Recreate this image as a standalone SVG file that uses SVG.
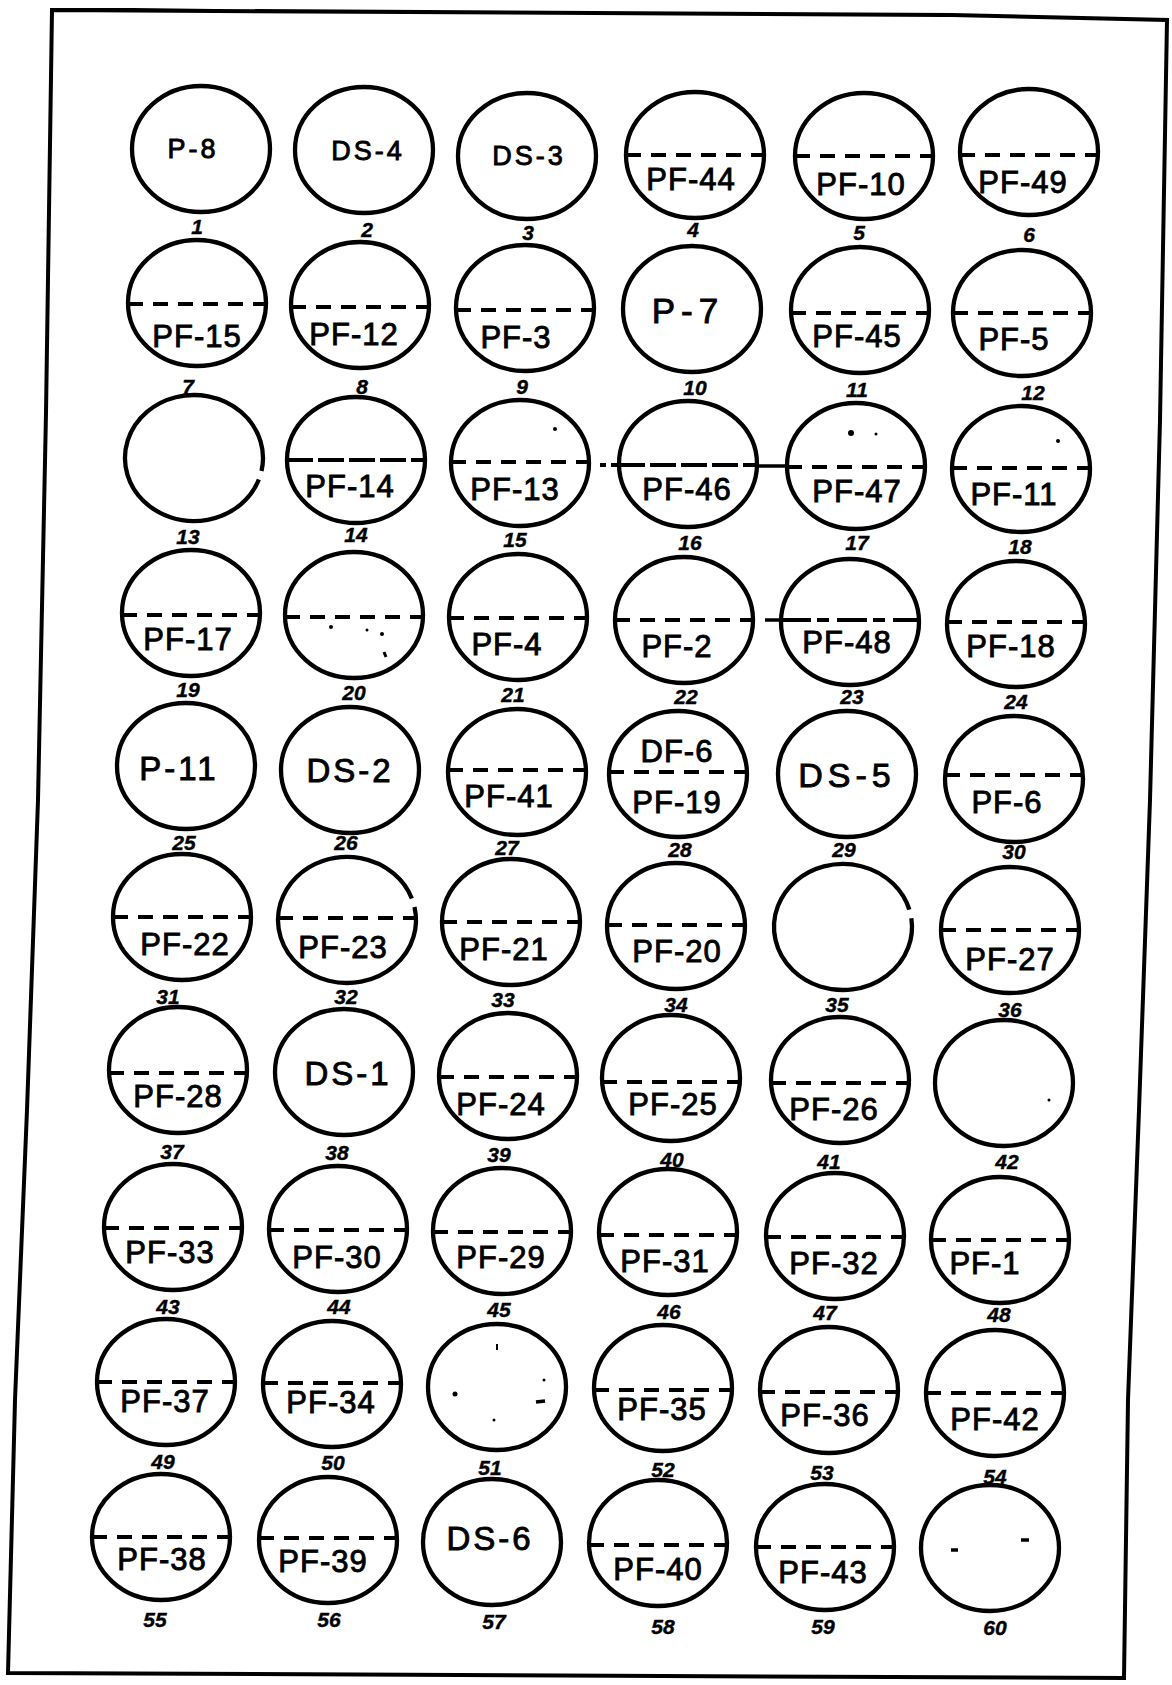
<svg xmlns="http://www.w3.org/2000/svg" width="1172" height="1685" viewBox="0 0 1172 1685">
<style>
.c{fill:none;stroke:#000;stroke-width:4.3}
.d{stroke:#000;stroke-width:4;stroke-dasharray:15 10;fill:none}
.ld{stroke:#000;stroke-width:4;stroke-dasharray:26 5;fill:none}
.s{stroke:#000;stroke-width:3.5;fill:none}
text{font-family:"Liberation Sans",Arial,sans-serif;fill:#000;text-anchor:middle;stroke:#000;stroke-width:0.9}
.t{font-size:31px;letter-spacing:1px}
.sm{font-size:27px;letter-spacing:3px}
.b{font-size:33px;letter-spacing:3px}
.n{font-size:21px;font-style:italic;font-weight:bold;stroke-width:0.4}
.m{fill:#000}
</style>
<rect width="1172" height="1685" fill="#fff"/>
<g id="frame" fill="none" stroke="#000" stroke-width="4">
<path d="M52,10 L944,15 M952,15 L1167,20 L1160,420 L1150,800 L1139,1110 L1128,1400 L1124,1678 L8,1673 L15,1400 L27,1110 L38,800 L46,413 L52,10 Z"/>
</g>
<g id="connectors">
<line class="d" x1="600" y1="465" x2="620" y2="465" style="stroke-dasharray:6 5"/>
<line class="s" x1="757" y1="466" x2="788" y2="466"/>
<line class="s" x1="765" y1="620" x2="782" y2="620"/>
</g>
<!-- Row 1 -->
<g id="n1"><ellipse class="c" cx="201" cy="149" rx="69" ry="63"/><text class="sm" x="193" y="158">P-8</text><text class="n" x="197" y="234">1</text></g>
<g id="n2"><ellipse class="c" cx="364" cy="150" rx="69" ry="63"/><text class="sm" x="368" y="160">DS-4</text><text class="n" x="367" y="237">2</text></g>
<g id="n3"><ellipse class="c" cx="527" cy="156" rx="69" ry="63"/><text class="sm" x="529" y="165">DS-3</text><text class="n" x="528" y="240">3</text></g>
<g id="n4"><ellipse class="c" cx="695" cy="155" rx="69" ry="63"/><line class="d" x1="626" y1="155" x2="764" y2="155"/><text class="t" x="691" y="190">PF-44</text><text class="n" x="693" y="237">4</text></g>
<g id="n5"><ellipse class="c" cx="864" cy="156" rx="69" ry="63"/><line class="d" x1="795" y1="156" x2="933" y2="156"/><text class="t" x="861" y="195">PF-10</text><text class="n" x="859" y="240">5</text></g>
<g id="n6"><ellipse class="c" cx="1029" cy="152" rx="69" ry="63"/><line class="d" x1="960" y1="155" x2="1098" y2="155"/><text class="t" x="1023" y="193">PF-49</text><text class="n" x="1029" y="242">6</text></g>
<!-- Row 2 -->
<g id="n7"><ellipse class="c" cx="197" cy="303" rx="69" ry="63"/><line class="d" x1="128" y1="304" x2="266" y2="304"/><text class="t" x="197" y="347">PF-15</text><text class="n" x="188" y="394">7</text></g>
<g id="n8"><ellipse class="c" cx="360" cy="305" rx="69" ry="63"/><line class="d" x1="291" y1="307" x2="429" y2="307"/><text class="t" x="354" y="345">PF-12</text><text class="n" x="362" y="394">8</text></g>
<g id="n9"><ellipse class="c" cx="525" cy="308" rx="69" ry="63"/><line class="d" x1="456" y1="310" x2="594" y2="310"/><text class="t" x="516" y="348">PF-3</text><text class="n" x="522" y="394">9</text></g>
<g id="n10"><ellipse class="c" cx="692" cy="309" rx="69" ry="63"/><text class="b" x="688" y="323" style="font-size:35px;letter-spacing:6px">P-7</text><text class="n" x="695" y="395">10</text></g>
<g id="n11"><ellipse class="c" cx="860" cy="310" rx="69" ry="63"/><line class="d" x1="791" y1="313" x2="929" y2="313"/><text class="t" x="857" y="347">PF-45</text><text class="n" x="857" y="397">11</text></g>
<g id="n12"><ellipse class="c" cx="1022" cy="313" rx="69" ry="63"/><line class="d" x1="953" y1="313" x2="1091" y2="313"/><text class="t" x="1014" y="350">PF-5</text><text class="n" x="1033" y="400">12</text></g>
<!-- Row 3 -->
<g id="n13"><path class="c" d="M258.84,479.55 A69,63 0 1 1 261.49,471.10"/><text class="n" x="188" y="544">13</text></g>
<g id="n14"><ellipse class="c" cx="356" cy="460" rx="69" ry="63"/><line class="ld" x1="287" y1="460" x2="425" y2="460"/><text class="t" x="350" y="497">PF-14</text><text class="n" x="356" y="542">14</text></g>
<g id="n15"><ellipse class="c" cx="520" cy="463" rx="69" ry="63"/><line class="d" x1="451" y1="462" x2="589" y2="462"/><text class="t" x="515" y="500">PF-13</text><circle class="m" cx="555" cy="429" r="2"/><text class="n" x="515" y="547">15</text></g>
<g id="n16"><ellipse class="c" cx="688" cy="464" rx="69" ry="63"/><line class="ld" x1="619" y1="465" x2="757" y2="465"/><text class="t" x="687" y="500">PF-46</text><text class="n" x="690" y="550">16</text></g>
<g id="n17"><ellipse class="c" cx="856" cy="466" rx="69" ry="63"/><line class="d" x1="787" y1="467" x2="925" y2="467"/><text class="t" x="857" y="502">PF-47</text><circle class="m" cx="851" cy="433" r="3"/><circle class="m" cx="876" cy="434" r="1.5"/><text class="n" x="857" y="550">17</text></g>
<g id="n18"><ellipse class="c" cx="1021" cy="469" rx="69" ry="63"/><line class="d" x1="952" y1="468" x2="1090" y2="468"/><text class="t" x="1014" y="505">PF-11</text><circle class="m" cx="1058" cy="441" r="2"/><text class="n" x="1020" y="554">18</text></g>
<!-- Row 4 -->
<g id="n19"><ellipse class="c" cx="191" cy="613" rx="69" ry="63"/><line class="d" x1="122" y1="615" x2="260" y2="615"/><text class="t" x="188" y="650">PF-17</text><text class="n" x="188" y="697">19</text></g>
<g id="n20"><ellipse class="c" cx="354" cy="615" rx="69" ry="63"/><line class="d" x1="285" y1="617" x2="423" y2="617"/><circle class="m" cx="331" cy="627" r="2"/><circle class="m" cx="367" cy="630" r="1.5"/><circle class="m" cx="382" cy="634" r="2"/><path class="s" d="M384,652 L386,657" style="stroke-width:3"/><text class="n" x="354" y="700">20</text></g>
<g id="n21"><ellipse class="c" cx="518" cy="617" rx="69" ry="63"/><line class="d" x1="449" y1="618" x2="587" y2="618"/><text class="t" x="507" y="655">PF-4</text><text class="n" x="513" y="702">21</text></g>
<g id="n22"><ellipse class="c" cx="684" cy="620" rx="69" ry="63"/><line class="d" x1="615" y1="620" x2="753" y2="620"/><text class="t" x="677" y="657">PF-2</text><text class="n" x="686" y="704">22</text></g>
<g id="n23"><ellipse class="c" cx="850" cy="622" rx="69" ry="63"/><line class="d" x1="781" y1="620" x2="919" y2="620" style="stroke-dasharray:30 6 12 8"/><text class="t" x="847" y="653">PF-48</text><text class="n" x="852" y="704">23</text></g>
<g id="n24"><ellipse class="c" cx="1016" cy="624" rx="69" ry="63"/><line class="d" x1="947" y1="622" x2="1085" y2="622"/><text class="t" x="1011" y="657">PF-18</text><text class="n" x="1016" y="709">24</text></g>
<!-- Row 5 -->
<g id="n25"><ellipse class="c" cx="186" cy="766" rx="69" ry="63"/><text class="b" x="179" y="780">P-11</text><text class="n" x="184" y="850">25</text></g>
<g id="n26"><ellipse class="c" cx="350" cy="770" rx="69" ry="63"/><text class="b" x="350" y="782">DS-2</text><text class="n" x="346" y="850">26</text></g>
<g id="n27"><ellipse class="c" cx="517" cy="772" rx="69" ry="63"/><line class="d" x1="448" y1="770" x2="586" y2="770"/><text class="t" x="509" y="807">PF-41</text><text class="n" x="507" y="855">27</text></g>
<g id="n28"><ellipse class="c" cx="678" cy="774" rx="69" ry="63"/><line class="d" x1="609" y1="772" x2="747" y2="772"/><text class="t" x="677" y="762">DF-6</text><text class="t" x="677" y="813">PF-19</text><text class="n" x="680" y="857">28</text></g>
<g id="n29"><ellipse class="c" cx="847" cy="774" rx="69" ry="63"/><text class="b" x="847" y="787" style="font-size:34px;letter-spacing:5px">DS-5</text><text class="n" x="844" y="857">29</text></g>
<g id="n30"><ellipse class="c" cx="1014" cy="779" rx="69" ry="63"/><line class="d" x1="945" y1="775" x2="1083" y2="775"/><text class="t" x="1007" y="813">PF-6</text><text class="n" x="1014" y="859">30</text></g>
<!-- Row 6 -->
<g id="n31"><ellipse class="c" cx="182" cy="917" rx="69" ry="63"/><line class="d" x1="113" y1="917" x2="251" y2="917"/><text class="t" x="185" y="955">PF-22</text><text class="n" x="168" y="1004">31</text></g>
<g id="n32"><path class="c" d="M414.49,906.90 A69,63 0 1 1 411.84,898.45"/><line class="d" x1="278" y1="918" x2="416" y2="918"/><text class="t" x="343" y="958">PF-23</text><text class="n" x="346" y="1004">32</text></g>
<g id="n33"><ellipse class="c" cx="511" cy="922" rx="69" ry="63"/><line class="d" x1="442" y1="922" x2="580" y2="922"/><text class="t" x="504" y="960">PF-21</text><text class="n" x="503" y="1007">33</text></g>
<g id="n34"><ellipse class="c" cx="676" cy="926" rx="69" ry="63"/><line class="d" x1="607" y1="925" x2="745" y2="925"/><text class="t" x="677" y="962">PF-20</text><text class="n" x="676" y="1012">34</text></g>
<g id="n35"><path class="c" d="M911.33,918.23 A69,63 0 1 1 909.33,909.63"/><text class="n" x="837" y="1012">35</text></g>
<g id="n36"><ellipse class="c" cx="1010" cy="930" rx="69" ry="63"/><line class="d" x1="941" y1="930" x2="1079" y2="930"/><text class="t" x="1010" y="970">PF-27</text><text class="n" x="1010" y="1017">36</text></g>
<!-- Row 7 -->
<g id="n37"><ellipse class="c" cx="178" cy="1070" rx="69" ry="63"/><line class="d" x1="109" y1="1073" x2="247" y2="1073"/><text class="t" x="178" y="1107">PF-28</text><text class="n" x="172" y="1159">37</text></g>
<g id="n38"><ellipse class="c" cx="344" cy="1072" rx="69" ry="63"/><text class="b" x="348" y="1085">DS-1</text><text class="n" x="337" y="1160">38</text></g>
<g id="n39"><ellipse class="c" cx="508" cy="1076" rx="69" ry="63"/><line class="d" x1="439" y1="1077" x2="577" y2="1077"/><text class="t" x="501" y="1115">PF-24</text><text class="n" x="499" y="1162">39</text></g>
<g id="n40"><ellipse class="c" cx="671" cy="1078" rx="69" ry="63"/><line class="d" x1="602" y1="1082" x2="740" y2="1082"/><text class="t" x="673" y="1115">PF-25</text><text class="n" x="672" y="1167">40</text></g>
<g id="n41"><ellipse class="c" cx="840" cy="1080" rx="69" ry="63"/><line class="d" x1="771" y1="1083" x2="909" y2="1083"/><text class="t" x="834" y="1120">PF-26</text><text class="n" x="829" y="1169">41</text></g>
<g id="n42"><ellipse class="c" cx="1004" cy="1083" rx="69" ry="63"/><circle class="m" cx="1049" cy="1100" r="1.5"/><text class="n" x="1007" y="1169">42</text></g>
<!-- Row 8 -->
<g id="n43"><ellipse class="c" cx="173" cy="1227" rx="69" ry="63"/><line class="d" x1="104" y1="1228" x2="242" y2="1228"/><text class="t" x="170" y="1263">PF-33</text><text class="n" x="168" y="1314">43</text></g>
<g id="n44"><ellipse class="c" cx="338" cy="1229" rx="69" ry="63"/><line class="d" x1="269" y1="1230" x2="407" y2="1230"/><text class="t" x="337" y="1268">PF-30</text><text class="n" x="339" y="1314">44</text></g>
<g id="n45"><ellipse class="c" cx="502" cy="1231" rx="69" ry="63"/><line class="d" x1="433" y1="1232" x2="571" y2="1232"/><text class="t" x="501" y="1268">PF-29</text><text class="n" x="499" y="1317">45</text></g>
<g id="n46"><ellipse class="c" cx="668" cy="1232" rx="69" ry="63"/><line class="d" x1="599" y1="1235" x2="737" y2="1235"/><text class="t" x="665" y="1272">PF-31</text><text class="n" x="669" y="1319">46</text></g>
<g id="n47"><ellipse class="c" cx="835" cy="1236" rx="69" ry="63"/><line class="d" x1="766" y1="1237" x2="904" y2="1237"/><text class="t" x="834" y="1274">PF-32</text><text class="n" x="825" y="1320">47</text></g>
<g id="n48"><ellipse class="c" cx="1000" cy="1240" rx="69" ry="63"/><line class="d" x1="931" y1="1240" x2="1069" y2="1240"/><text class="t" x="985" y="1274">PF-1</text><text class="n" x="999" y="1322">48</text></g>
<!-- Row 9 -->
<g id="n49"><ellipse class="c" cx="166" cy="1382" rx="69" ry="63"/><line class="d" x1="97" y1="1382" x2="235" y2="1382"/><text class="t" x="165" y="1412">PF-37</text><text class="n" x="163" y="1469">49</text></g>
<g id="n50"><ellipse class="c" cx="332" cy="1384" rx="69" ry="63"/><line class="d" x1="263" y1="1383" x2="401" y2="1383"/><text class="t" x="331" y="1413">PF-34</text><text class="n" x="333" y="1470">50</text></g>
<g id="n51"><ellipse class="c" cx="497" cy="1387" rx="69" ry="63"/><circle class="m" cx="455" cy="1394" r="2.5"/><path class="s" d="M536,1402 L545,1401" style="stroke-width:3.5"/><circle class="m" cx="494" cy="1420" r="1.5"/><path class="s" d="M497,1344 L497,1350" style="stroke-width:2"/><circle class="m" cx="544" cy="1380" r="1.5"/><text class="n" x="490" y="1475">51</text></g>
<g id="n52"><ellipse class="c" cx="663" cy="1388" rx="69" ry="63"/><line class="d" x1="594" y1="1390" x2="732" y2="1390"/><text class="t" x="662" y="1420">PF-35</text><text class="n" x="663" y="1477">52</text></g>
<g id="n53"><ellipse class="c" cx="829" cy="1390" rx="69" ry="63"/><line class="d" x1="760" y1="1392" x2="898" y2="1392"/><text class="t" x="825" y="1426">PF-36</text><text class="n" x="822" y="1480">53</text></g>
<g id="n54"><ellipse class="c" cx="995" cy="1393" rx="69" ry="63"/><line class="d" x1="926" y1="1393" x2="1064" y2="1393"/><text class="t" x="995" y="1430">PF-42</text><text class="n" x="995" y="1484">54</text></g>
<!-- Row 10 -->
<g id="n55"><ellipse class="c" cx="161" cy="1537" rx="69" ry="63"/><line class="d" x1="92" y1="1537" x2="230" y2="1537"/><text class="t" x="162" y="1570">PF-38</text><text class="n" x="155" y="1627">55</text></g>
<g id="n56"><ellipse class="c" cx="328" cy="1540" rx="69" ry="63"/><line class="d" x1="259" y1="1538" x2="397" y2="1538"/><text class="t" x="323" y="1572">PF-39</text><text class="n" x="329" y="1627">56</text></g>
<g id="n57"><ellipse class="c" cx="492" cy="1542" rx="69" ry="63"/><text class="b" x="490" y="1550">DS-6</text><text class="n" x="494" y="1629">57</text></g>
<g id="n58"><ellipse class="c" cx="658" cy="1543" rx="69" ry="63"/><line class="d" x1="589" y1="1545" x2="727" y2="1545"/><text class="t" x="658" y="1580">PF-40</text><text class="n" x="663" y="1634">58</text></g>
<g id="n59"><ellipse class="c" cx="825" cy="1547" rx="69" ry="63"/><line class="d" x1="756" y1="1547" x2="894" y2="1547"/><text class="t" x="823" y="1583">PF-43</text><text class="n" x="823" y="1634">59</text></g>
<g id="n60"><ellipse class="c" cx="990" cy="1548" rx="69" ry="63"/><path class="s" d="M951,1550 L958,1550" style="stroke-width:3.5"/><path class="s" d="M1021,1540 L1029,1540" style="stroke-width:3.5"/><text class="n" x="995" y="1635">60</text></g>
</svg>
